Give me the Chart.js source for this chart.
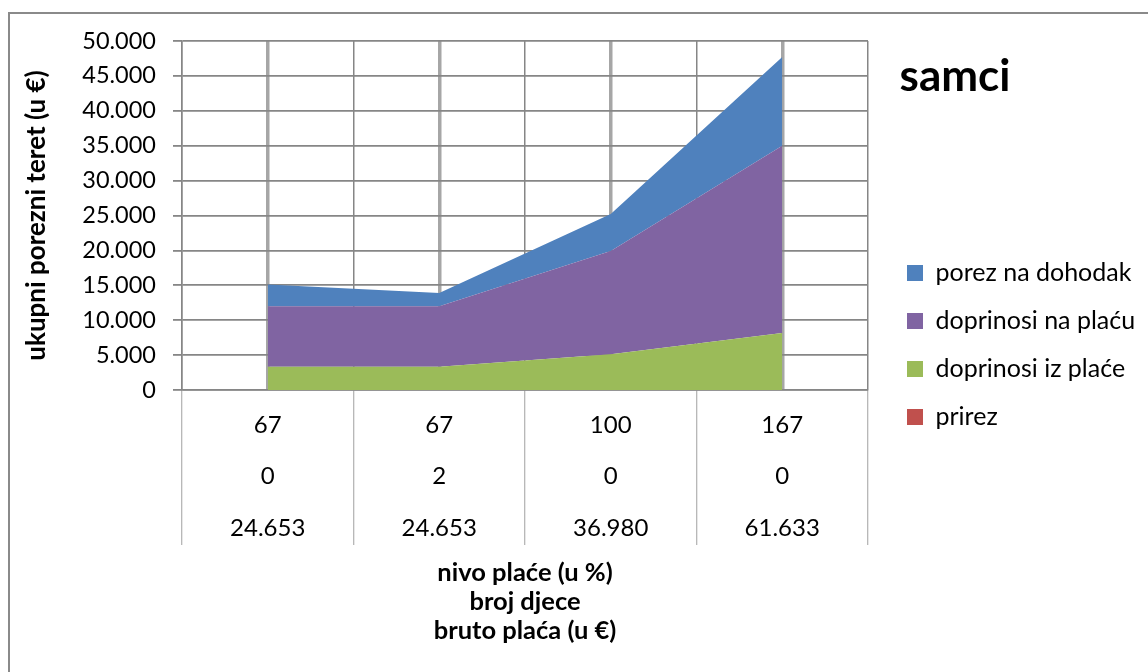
<!DOCTYPE html>
<html>
<head>
<meta charset="utf-8">
<script src="https://cdn.jsdelivr.net/npm/chart.js@4.4.1/dist/chart.umd.min.js"></script>
<style>
  html, body { margin: 0; padding: 0; background: #fff; overflow: hidden; }
  #wrap { position: relative; width: 1148px; height: 672px; overflow: hidden; }
  #frame { position: absolute; left: 8px; top: 12px; width: 1200px; height: 700px; border: 2px solid #8a8a8a; box-sizing: border-box; }
  canvas { position: absolute; left: 0; top: 0; }
</style>
</head>
<body>
<div id="wrap">
  <div id="frame"></div>
  <canvas id="c" width="1148" height="672"></canvas>
</div>
<script>
// ---- data ----
const nivoPlace = ['67', '67', '100', '167'];
const brojDjece = ['0', '2', '0', '0'];
const brutoPlaca = ['24.653', '24.653', '36.980', '61.633'];

const prirez = [0, 0, 0, 0];
const doprinosiIzPlace = [3330, 3330, 5120, 8150];
const doprinosiNaPlacu = [8670, 8670, 14800, 26850];
const porezNaDohodak = [3100, 1900, 5300, 12700];

const yTicks = { min: 0, max: 50000, step: 5000 };

const chartTitle = 'samci';
const yTitle = 'ukupni porezni teret (u €)';
const xTitle = ['nivo plaće (u %)', 'broj djece', 'bruto plaća (u €)'];

// ---- build ----
const labels = nivoPlace.map((n, i) => [n, brojDjece[i], brutoPlaca[i]]);

function fmt(v) {
  return String(v).replace(/\B(?=(\d{3})+(?!\d))/g, '.');
}

Chart.defaults.font.family = "Lato, 'Open Sans', sans-serif";
Chart.defaults.color = '#000';

function area(label, data, color, fill) {
  return {
    label, data,
    backgroundColor: color, borderColor: color, borderWidth: 0,
    pointRadius: 0, pointHoverRadius: 0, tension: 0, fill
  };
}

const titlePlugin = {
  id: 'sideTitle',
  afterDraw(chart) {
    const ctx = chart.ctx;
    ctx.save();
    ctx.font = "bold 44px Lato, 'Open Sans', sans-serif";
    ctx.fillStyle = '#000';
    ctx.textAlign = 'center';
    ctx.textBaseline = 'middle';
    ctx.fillText(chartTitle, 955, 77);
    ctx.restore();
  }
};

new Chart(document.getElementById('c'), {
  type: 'line',
  data: {
    labels,
    datasets: [
      area('prirez', prirez, '#C0504D', 'origin'),
      area('doprinosi iz plaće', doprinosiIzPlace, '#9BBB59', '-1'),
      area('doprinosi na plaću', doprinosiNaPlacu, '#8064A2', '-1'),
      area('porez na dohodak', porezNaDohodak, '#4F81BD', '-1')
    ]
  },
  options: {
    responsive: false,
    animation: false,
    layout: { padding: { top: 18, bottom: 0, left: 0, right: 4 } },
    plugins: {
      tooltip: { enabled: false },
      legend: {
        position: 'right',
        reverse: true,
        maxWidth: 260,
        labels: {
          boxWidth: 16, boxHeight: 16, padding: 23,
          font: { size: 25 }, color: '#000'
        }
      },
      filler: { propagate: false }
    },
    scales: {
      x: {
        type: 'category',
        position: 'bottom',
        offset: true,
        grid: {
          offset: true, color: '#868686', lineWidth: 1.5,
          drawTicks: true, tickLength: 155, tickColor: '#a0a0a0', tickWidth: 1
        },
        border: { display: true, color: '#868686', width: 1.5 },
        ticks: {
          autoSkip: false, maxRotation: 0, minRotation: 0, padding: -146,
          font: { size: 24, lineHeight: 2.15 }, color: '#000'
        },
        title: {
          display: true, text: xTitle,
          font: { size: 25.5, weight: 'bold', lineHeight: 1.14 },
          padding: { top: 0, bottom: 27 }, color: '#000'
        },
        afterFit(s) { s.height = 282; }
      },
      x2: {
        type: 'category',
        position: 'top',
        offset: true,
        grid: { offset: false, color: '#a6a6a6', lineWidth: 3.5, drawTicks: false },
        border: { display: false },
        ticks: { display: false },
        afterFit(s) { s.height = 23; }
      },
      y: {
        stacked: true,
        min: yTicks.min, max: yTicks.max,
        grid: { color: '#868686', lineWidth: 1.8, tickLength: 9, tickColor: '#868686' },
        border: { display: true, color: '#868686', width: 1.5 },
        ticks: {
          stepSize: yTicks.step, padding: 17,
          font: { size: 23.5 }, color: '#000',
          callback: v => fmt(v)
        },
        title: {
          display: true, text: yTitle,
          font: { size: 26, weight: 'bold' },
          padding: { top: 21, bottom: 0 }, color: '#000'
        },
        afterFit(s) { s.width = 182; }
      },
      yspace: {
        position: 'right',
        min: 0, max: 1,
        grid: { display: false, drawTicks: false },
        border: { display: false },
        ticks: { display: false },
        afterFit(s) { s.width = 16; }
      }
    }
  },
  plugins: [titlePlugin]
});
</script>
</body>
</html>
